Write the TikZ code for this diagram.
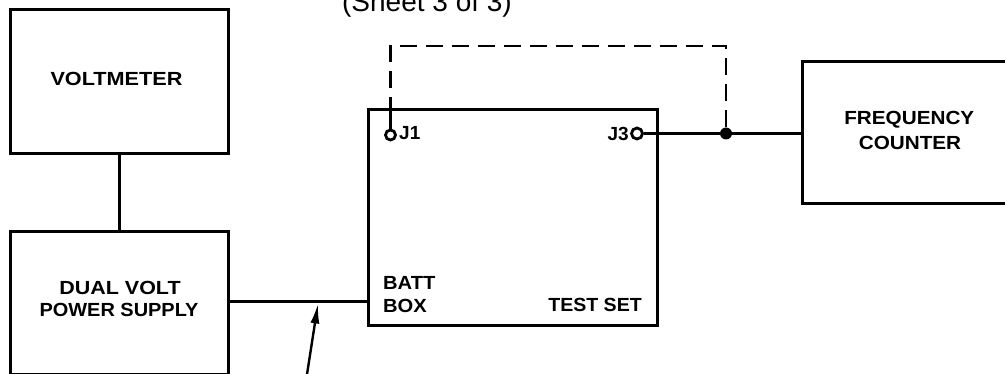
\documentclass[tikz,border=0pt]{standalone}
\usepackage{fontspec}
\setmainfont{Liberation Sans}
\usetikzlibrary{arrows.meta,calc}
\newcommand\sx[2]{\scalebox{#1}[1]{#2}}
\tikzset{
  box/.style={draw, line width=3pt, rectangle, inner sep=0pt},
  wire/.style={line width=3pt},
  dwire/.style={line width=2.6pt, dash pattern=on 17pt off 9pt},
  lbl/.style={font=\bfseries\fontsize{19}{24}\selectfont, inner sep=0pt},
  jack/.style={circle, draw, line width=2.8pt, inner sep=0pt, minimum size=10pt, fill=white},
  dot/.style={circle, fill, inner sep=0pt, minimum size=12pt},
}
\begin{document}
\begin{tikzpicture}[x=1pt,y=-1pt]
\useasboundingbox (0,0) rectangle (1005,374);
\clip (0,0) rectangle (1005,374);
\fill[white] (0,0) rectangle (1005,374);

% title (cut off at top)
\node[font=\fontsize{28}{30}\selectfont, anchor=base, inner sep=0pt] (title) at (427,12) {(Sheet 3 of 3)};

% boxes
\node[box, minimum width=218pt, minimum height=144pt] (volt) at (119,82) {};
\node[box, minimum width=218pt, minimum height=142pt] (ps) at (119,303) {};
\node[box, minimum width=289pt, minimum height=216pt] (ts) at (512.5,218) {};
\node[box, minimum width=218pt, minimum height=142pt] (fc) at (911,133) {};

% labels
\node[lbl, anchor=base] (tv) at (116.5,86) {\sx{1.14}{VOLTMETER}};
\node[lbl, anchor=base] (tps1) at (120,294.3) {\sx{1.13}{DUAL VOLT}};
\node[lbl, anchor=base] (tps2) at (119,316.7) {\sx{1.05}{POWER SUPPLY}};
\node[lbl, anchor=base] (tfc1) at (909.3,125) {\sx{1.09}{FREQUENCY}};
\node[lbl, anchor=base] (tfc2) at (910,150) {\sx{1.09}{COUNTER}};
\node[lbl, anchor=base west] (tb1) at (383,289.3) {\sx{1.06}{BATT}};
\node[lbl, anchor=base west] (tb2) at (383,312.3) {\sx{1.06}{BOX}};
\node[lbl, anchor=base east] (tts) at (642,311.7) {\sx{1.03}{TEST SET}};
\node[lbl, anchor=base west] (tj1) at (399,140) {J1};
\node[lbl, anchor=base east] (tj3) at (629,141) {J3};

% jacks and junction
\node[jack] (j1) at (390.5,135) {};
\node[jack, minimum size=11pt] (j3) at (637,133.5) {};
\node[dot] (jn) at (726,133.5) {};

% connectors
\draw[wire] (volt.south) -- (ps.north);
\coordinate (psout) at ($(ps.east)+(0,-1)$);
\draw[wire] (psout) -- (psout -| ts.west);
\draw[wire] (j3.east) -- (jn) -- (jn -| fc.west);
\coordinate (stem) at (390.5,103);
\coordinate (dl) at (390.5,46);
\coordinate (dr) at (726,46);
\draw[wire, line width=2.6pt] (j1.north) -- (stem);
\draw[dwire] (jn.north) -- (dr) -- (dl) -- (stem);

% arrow leader
\coordinate (tail) at (305.5,384);
\coordinate (tip) at (318,303.5);
\draw[line width=2.4pt, -{Latex[length=20pt,width=9pt]}] (tail) -- (tip);
\end{tikzpicture}
\end{document}
